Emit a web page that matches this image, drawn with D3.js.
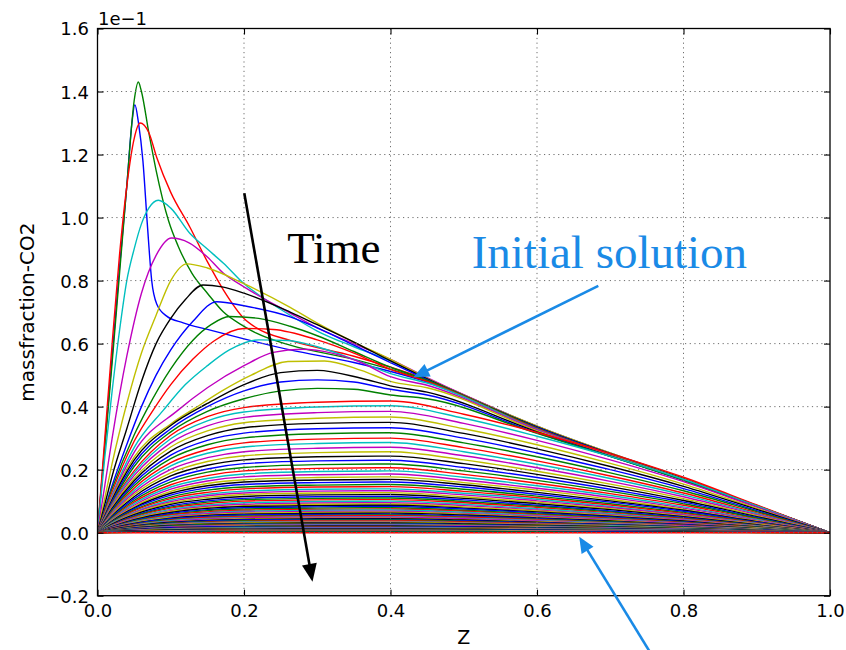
<!DOCTYPE html>
<html>
<head>
<meta charset="utf-8">
<script src="https://cdn.jsdelivr.net/npm/d3@7"></script>
<style>
body { margin: 0; background: #fff; }
</style>
</head>
<body>
<div id="chart"></div>
<script>
// values, in axis units (x 1e-1)

// first curves, each with its own z samples: [z, value]
var earlyCurves = [
  [[0,0],[.01,.28],[.02,.56],[.03,.84],[.04,1.1],[.047,1.3],[.051,1.358],[.056,1.3],[.062,1.18],[.068,.98],[.074,.8],[.081,.725],[.094,.688],[.117,.666],[.15,.645],[.2,.615],[.263,.58],[.35,.54],[.45,.478],[.6,.331],[.8,.168],[1,0]],
  [[0,0],[.01,.27],[.02,.54],[.03,.82],[.04,1.1],[.05,1.37],[.0557,1.43],[.06,1.4],[.07,1.27],[.08,1.15],[.097,.99],[.11,.91],[.129,.823],[.15,.76],[.172,.7],[.2,.655],[.217,.633],[.263,.595],[.35,.55],[.45,.482],[.6,.333],[.8,.169],[1,0]],
  [[0,0],[.01,.3],[.02,.6],[.03,.88],[.04,1.1],[.05,1.25],[.058,1.3],[.07,1.27],[.081,1.19],[.1,1.08],[.126,.97],[.15,.86],[.172,.77],[.2,.68],[.217,.65],[.263,.61],[.35,.56],[.45,.486],[.6,.335],[.8,.17],[1,0]],
  [[0,0],[.01,.24],[.02,.45],[.03,.64],[.04,.8],[.05,.9],[.06,.98],[.07,1.03],[.083,1.055],[.1,1.03],[.126,.95],[.15,.9],[.172,.855],[.2,.79],[.217,.76],[.263,.69],[.3,.64],[.35,.59],[.4,.545],[.45,.49],[.6,.338],[.8,.172],[1,0]],
  [[0,0],[.01,.15],[.02,.3],[.04,.56],[.06,.76],[.08,.88],[.101,.935],[.125,.92],[.15,.875],[.172,.823],[.2,.78],[.263,.697],[.3,.65],[.35,.6],[.4,.55],[.45,.492],[.6,.338],[.8,.172],[1,0]],
  [[0,0],[.01,.11],[.02,.22],[.04,.41],[.06,.57],[.08,.69],[.1,.8],[.122,.853],[.15,.84],[.2,.79],[.263,.715],[.3,.665],[.35,.605],[.4,.55],[.45,.49],[.6,.338],[.8,.172],[1,0]],
  [[0,0],[.01,.09],[.02,.18],[.04,.33],[.06,.48],[.08,.6],[.1,.68],[.12,.74],[.144,.786],[.17,.78],[.2,.76],[.263,.7],[.3,.66],[.35,.605],[.4,.545],[.45,.488],[.6,.336],[.8,.171],[1,0]],
  [[0,0],[.02,.15],[.04,.28],[.06,.4],[.08,.5],[.1,.58],[.13,.67],[.163,.733],[.2,.72],[.263,.685],[.3,.65],[.35,.595],[.4,.54],[.45,.486],[.6,.334],[.8,.17],[1,0]],
  [[0,0],[.02,.14],[.05,.31],[.067,.389],[.1,.52],[.13,.61],[.155,.66],[.18,.686],[.22,.68],[.263,.655],[.3,.625],[.35,.575],[.4,.525],[.45,.484],[.6,.332],[.8,.17],[1,0]],
  [[0,0],[.02,.13],[.05,.29],[.076,.389],[.1,.47],[.13,.55],[.16,.61],[.2,.648],[.24,.645],[.3,.612],[.35,.57],[.4,.518],[.45,.48],[.6,.33],[.8,.169],[1,0]],
  [[0,0],[.02,.12],[.05,.27],[.09,.389],[.12,.47],[.15,.53],[.18,.58],[.22,.612],[.26,.61],[.3,.59],[.35,.55],[.4,.505],[.45,.475],[.6,.328],[.8,.169],[1,0]],
  [[0,0],[.02,.115],[.05,.255],[.11,.389],[.15,.46],[.2,.53],[.24,.572],[.28,.582],[.32,.57],[.36,.54],[.4,.495],[.45,.468],[.6,.326],[.8,.168],[1,0]],
  [[0,0],[.02,.11],[.05,.24],[.1,.345],[.133,.395],[.17,.45],[.21,.5],[.26,.543],[.31,.545],[.36,.515],[.4,.48],[.45,.46],[.6,.323],[.8,.168],[1,0]],
  [[0,0],[.02,.105],[.05,.23],[.1,.34],[.15,.41],[.2,.47],[.25,.508],[.3,.515],[.36,.49],[.4,.466],[.45,.446],[.6,.32],[.8,.167],[1,0]],
  [[0,0],[.02,.1],[.05,.22],[.1,.33],[.15,.4],[.2,.45],[.25,.478],[.3,.485],[.35,.478],[.4,.455],[.45,.437],[.6,.317],[.8,.167],[1,0]],
  [[0,0],[.02,.095],[.05,.21],[.1,.32],[.15,.385],[.2,.425],[.25,.45],[.3,.458],[.35,.455],[.4,.437],[.45,.425],[.6,.315],[.8,.166],[1,0]]
];

// later curves share one z grid
var lateZ = [0, .02, .05, .1, .15, .2, .3, .4, .5, .6, .7, .8, .9, 1];
var lateCurves = [
  [0,.092,.196,.309,.368,.397,.414,.418,.376,.318,.251,.176,.088,0],
  [0,.089,.189,.298,.355,.383,.399,.403,.363,.306,.242,.169,.085,0],
  [0,.085,.181,.285,.339,.366,.381,.385,.347,.293,.231,.162,.081,0],
  [0,.081,.172,.272,.323,.349,.363,.367,.330,.279,.220,.154,.077,0],
  [0,.077,.165,.259,.308,.333,.347,.350,.315,.266,.210,.147,.074,0],
  [0,.073,.157,.246,.293,.316,.330,.333,.300,.253,.200,.140,.070,0],
  [0,.070,.149,.235,.279,.301,.314,.317,.285,.241,.190,.133,.067,0],
  [0,.066,.141,.222,.264,.285,.297,.300,.270,.228,.180,.126,.063,0],
  [0,.063,.134,.212,.252,.272,.283,.286,.257,.217,.172,.120,.060,0],
  [0,.060,.127,.201,.238,.257,.268,.271,.244,.206,.163,.114,.057,0],
  [0,.057,.121,.190,.226,.244,.254,.257,.231,.195,.154,.108,.054,0],
  [0,.053,.114,.180,.214,.231,.241,.243,.219,.185,.146,.102,.051,0],
  [0,.051,.108,.170,.202,.219,.228,.230,.207,.175,.138,.097,.048,0],
  [0,.048,.102,.161,.192,.207,.216,.218,.196,.166,.131,.092,.046,0],
  [0,.045,.097,.152,.181,.196,.204,.206,.185,.157,.124,.087,.043,0],
  [0,.043,.092,.145,.172,.186,.194,.196,.176,.149,.118,.082,.041,0],
  [0,.041,.087,.138,.164,.177,.184,.186,.167,.141,.112,.078,.039,0],
  [0,.039,.083,.131,.156,.168,.175,.177,.159,.135,.106,.074,.037,0],
  [0,.037,.079,.125,.149,.161,.167,.169,.152,.128,.101,.071,.035,0],
  [0,.035,.076,.119,.142,.153,.159,.161,.145,.122,.097,.068,.034,0],
  [0,.034,.072,.113,.135,.145,.151,.153,.138,.116,.092,.064,.032,0],
  [0,.032,.069,.108,.128,.139,.145,.146,.131,.111,.088,.061,.031,0],
  [0,.031,.065,.103,.122,.132,.138,.139,.125,.106,.083,.058,.029,0],
  [0,.029,.063,.098,.117,.126,.132,.133,.120,.101,.080,.056,.028,0],
  [0,.028,.060,.094,.112,.121,.126,.127,.114,.097,.076,.053,.027,0],
  [0,.027,.057,.090,.106,.115,.120,.121,.109,.092,.073,.051,.025,0],
  [0,.025,.054,.085,.101,.109,.114,.115,.104,.087,.069,.048,.024,0],
  [0,.024,.052,.081,.097,.105,.109,.110,.099,.084,.066,.046,.023,0],
  [0,.023,.049,.078,.092,.100,.104,.105,.095,.080,.063,.044,.022,0],
  [0,.022,.047,.074,.088,.095,.099,.100,.090,.076,.060,.042,.021,0],
  [0,.021,.045,.070,.084,.090,.094,.095,.086,.072,.057,.040,.020,0],
  [0,.020,.043,.067,.080,.086,.090,.091,.082,.069,.055,.038,.019,0],
  [0,.019,.041,.064,.077,.083,.086,.087,.078,.066,.052,.037,.018,0],
  [0,.018,.039,.061,.073,.079,.082,.083,.075,.063,.050,.035,.017,0],
  [0,.017,.037,.058,.070,.075,.078,.079,.071,.060,.047,.033,.017,0],
  [0,.017,.035,.056,.066,.071,.074,.075,.068,.057,.045,.032,.016,0],
  [0,.016,.034,.053,.063,.068,.071,.072,.065,.055,.043,.030,.015,0],
  [0,.015,.032,.050,.060,.065,.067,.068,.061,.052,.041,.029,.014,0],
  [0,.014,.031,.048,.057,.062,.064,.065,.059,.049,.039,.027,.014,0],
  [0,.014,.029,.046,.055,.059,.061,.062,.056,.047,.037,.026,.013,0],
  [0,.013,.028,.044,.052,.056,.058,.059,.053,.045,.035,.025,.012,0],
  [0,.012,.026,.041,.049,.053,.055,.056,.050,.043,.034,.024,.012,0],
  [0,.012,.025,.040,.048,.051,.053,.054,.049,.041,.032,.023,.011,0],
  [0,.011,.024,.038,.045,.048,.050,.051,.046,.039,.031,.021,.011,0],
  [0,.011,.023,.036,.043,.047,.049,.049,.044,.037,.029,.021,.010,0],
  [0,.010,.022,.034,.040,.044,.046,.046,.041,.035,.028,.019,.010,0],
  [0,.010,.021,.033,.039,.042,.044,.044,.040,.033,.026,.018,.009,0],
  [0,.009,.020,.031,.037,.040,.042,.042,.038,.032,.025,.018,.009,0],
  [0,.009,.019,.030,.035,.038,.040,.040,.036,.030,.024,.017,.008,0],
  [0,.008,.018,.028,.033,.036,.038,.038,.034,.029,.023,.016,.008,0],
  [0,.008,.017,.027,.032,.034,.036,.036,.032,.027,.022,.015,.008,0],
  [0,.007,.016,.025,.030,.032,.034,.034,.031,.026,.020,.014,.007,0],
  [0,.007,.016,.024,.029,.031,.033,.033,.030,.025,.020,.014,.007,0],
  [0,.007,.015,.023,.027,.029,.031,.031,.028,.024,.019,.013,.007,0],
  [0,.006,.014,.021,.026,.028,.029,.029,.026,.022,.017,.012,.006,0],
  [0,.006,.013,.021,.025,.027,.028,.028,.025,.021,.017,.012,.006,0],
  [0,.006,.012,.019,.023,.025,.026,.026,.023,.020,.016,.011,.005,0],
  [0,.006,.012,.019,.022,.024,.025,.025,.023,.019,.015,.011,.005,0],
  [0,.005,.011,.018,.021,.023,.024,.024,.022,.018,.014,.010,.005,0],
  [0,.005,.010,.016,.019,.021,.022,.022,.020,.017,.013,.009,.005,0],
  [0,.005,.010,.016,.018,.020,.021,.021,.019,.016,.013,.009,.004,0],
  [0,.004,.009,.015,.018,.019,.020,.020,.018,.015,.012,.008,.004,0],
  [0,.004,.008,.013,.016,.017,.018,.018,.016,.014,.011,.008,.004,0],
  [0,.004,.008,.013,.015,.016,.017,.017,.015,.013,.010,.007,.004,0],
  [0,.004,.008,.012,.014,.015,.016,.016,.014,.012,.010,.007,.003,0],
  [0,.003,.007,.010,.012,.013,.014,.014,.013,.011,.008,.006,.003,0],
  [0,.003,.006,.010,.011,.012,.013,.013,.012,.010,.008,.005,.003,0],
  [0,.003,.006,.009,.011,.011,.012,.012,.011,.009,.007,.005,.003,0],
  [0,.002,.005,.007,.009,.010,.010,.010,.009,.008,.006,.004,.002,0],
  [0,.002,.004,.007,.008,.009,.009,.009,.008,.007,.005,.004,.002,0],
  [0,.002,.004,.006,.007,.008,.008,.008,.007,.006,.005,.003,.002,0],
  [0,.002,.003,.005,.006,.007,.007,.007,.006,.005,.004,.003,.001,0],
  [0,.001,.003,.004,.005,.006,.006,.006,.005,.005,.004,.003,.001,0],
  [0,.001,.002,.004,.004,.005,.005,.005,.005,.004,.003,.002,.001,0],
  [0,.001,.002,.003,.004,.004,.004,.004,.004,.003,.002,.002,.001,0],
  [0,.001,.001,.002,.003,.003,.003,.003,.003,.002,.002,.001,.001,0],
  [0,0,.001,.001,.002,.002,.002,.002,.002,.002,.001,.001,0,0],
  [0,0,0,0,0,0,0,0,0,0,0,0,0,0]
];

// matplotlib classic colour cycle b g r c m y k
var colorCycle = ["#0000ff", "#008000", "#ff0000", "#00bfbf", "#bf00bf", "#bfbf00", "#000000"];

var xTickValues = [0, 0.2, 0.4, 0.6, 0.8, 1.0];
var yTickValues = [-0.2, 0, 0.2, 0.4, 0.6, 0.8, 1.0, 1.2, 1.4, 1.6];

// annotations, in data coords
var timeArrow = [[0.2004, 1.077], [0.2935, -0.156]];
var initialArrow = [[0.6837, 0.783], [0.4311, 0.493]];
var finalArrow = [[0.7566, -0.388], [0.6576, -0.0127]];
var timeLabel = { text: "Time", z: 0.259, v: 0.855 };
var initialLabel = { text: "Initial solution", z: 0.5108, v: 0.839 };

var svgWidth = 846;
var svgHeight = 650;

var margin = { top: 28.5, right: 16, bottom: 54.3, left: 97.5 };

var width = svgWidth - margin.left - margin.right;
var height = svgHeight - margin.top - margin.bottom;

var svg = d3.select("#chart").append("svg")
    .attr("width", svgWidth)
    .attr("height", svgHeight)
    .style("font-family", "'DejaVu Sans', sans-serif");

var chartGroup = svg.append("g")
    .attr("transform", `translate(${margin.left}, ${margin.top})`);

var xScale = d3.scaleLinear().domain([0, 1]).range([0, width]);
var yScale = d3.scaleLinear().domain([-0.2, 1.6]).range([height, 0]);

chartGroup.append("clipPath").attr("id", "plotclip")
  .append("rect").attr("width", width).attr("height", height);

// build one list of series: early ones then the later family
var series = earlyCurves.map(c => c.map(p => ({ z: p[0], v: p[1] })));
lateCurves.forEach(function(row) {
    series.push(row.map((v, i) => ({ z: lateZ[i], v: v })));
});

var line = d3.line()
    .x(d => xScale(d.z))
    .y(d => yScale(d.v))
    .curve(d3.curveMonotoneX);

chartGroup.append("g")
    .attr("clip-path", "url(#plotclip)")
  .selectAll("path")
  .data(series)
  .enter().append("path")
    .attr("d", line)
    .attr("fill", "none")
    .attr("stroke", (d, i) => colorCycle[i % colorCycle.length])
    .attr("stroke-width", 1.4)
    .attr("stroke-linejoin", "round");

// dotted grid (drawn above lines, like classic matplotlib)
var grid = chartGroup.append("g")
    .attr("stroke", "#6e6e6e")
    .attr("stroke-width", 1)
    .attr("stroke-dasharray", "1.2,3.5");

grid.selectAll(".gx").data(xTickValues.slice(1, -1)).enter().append("line")
    .attr("x1", d => xScale(d)).attr("x2", d => xScale(d))
    .attr("y1", 0).attr("y2", height);

grid.selectAll(".gy").data(yTickValues.slice(1, -1)).enter().append("line")
    .attr("y1", d => yScale(d)).attr("y2", d => yScale(d))
    .attr("x1", 0).attr("x2", width);

// axes, ticks pointing in
var fmt = d3.format(".1f");

var xAxis = d3.axisBottom(xScale).tickValues(xTickValues).tickFormat(fmt)
    .tickSizeInner(-6).tickSizeOuter(0).tickPadding(8.2);
var yAxis = d3.axisLeft(yScale).tickValues(yTickValues).tickFormat(fmt)
    .tickSizeInner(-6).tickSizeOuter(0).tickPadding(8.5);
var xTop = d3.axisTop(xScale).tickValues(xTickValues).tickFormat("")
    .tickSizeInner(-6).tickSizeOuter(0);
var yRight = d3.axisRight(yScale).tickValues(yTickValues).tickFormat("")
    .tickSizeInner(-6).tickSizeOuter(0);

function styleAxis(g) {
    g.select(".domain").remove();
    g.selectAll("line").attr("stroke", "#000").attr("stroke-width", 1.1);
    g.selectAll("text").attr("fill", "#000")
      .style("font-size", "18px")
      .style("font-family", "'DejaVu Sans', sans-serif");
}

chartGroup.append("g").attr("transform", `translate(0, ${height})`).call(xAxis).call(styleAxis);
chartGroup.append("g").call(yAxis).call(styleAxis)
    .selectAll("text").attr("dy", "0.36em");
chartGroup.append("g").call(xTop).call(styleAxis);
chartGroup.append("g").attr("transform", `translate(${width}, 0)`).call(yRight).call(styleAxis);

// frame
chartGroup.append("rect")
    .attr("width", width).attr("height", height)
    .attr("fill", "none").attr("stroke", "#000").attr("stroke-width", 1.3);

// offset text
chartGroup.append("text")
    .attr("x", 0.5).attr("y", -3.5)
    .style("font-size", "18px")
    .text("1e\u22121");

// axis labels
chartGroup.append("text")
    .attr("x", width / 2).attr("y", height + 48.5)
    .attr("text-anchor", "middle")
    .style("font-size", "19px")
    .text("Z");

chartGroup.append("text")
    .attr("transform", `translate(${-64}, ${height / 2}) rotate(-90)`)
    .attr("text-anchor", "middle")
    .style("font-size", "20px")
    .text("massfraction-CO2");

// annotation arrows
function drawArrow(pts, color, w, headLen, headHalf) {
    var x1 = xScale(pts[0][0]), y1 = yScale(pts[0][1]);
    var x2 = xScale(pts[1][0]), y2 = yScale(pts[1][1]);
    var dx = x2 - x1, dy = y2 - y1, len = Math.sqrt(dx * dx + dy * dy);
    var ux = dx / len, uy = dy / len;
    var bx = x2 - ux * headLen, by = y2 - uy * headLen;
    chartGroup.append("line")
        .attr("x1", x1).attr("y1", y1).attr("x2", bx + ux * 2).attr("y2", by + uy * 2)
        .attr("stroke", color).attr("stroke-width", w);
    chartGroup.append("path")
        .attr("d", `M${x2},${y2}L${bx - uy * headHalf},${by + ux * headHalf}L${bx + uy * headHalf},${by - ux * headHalf}Z`)
        .attr("fill", color);
}

drawArrow(timeArrow, "#000", 2.6, 18, 7.5);
drawArrow(initialArrow, "#1a8ae6", 2.6, 16, 7);
drawArrow(finalArrow, "#1a8ae6", 2.6, 16, 7);

chartGroup.append("text")
    .attr("x", xScale(timeLabel.z)).attr("y", yScale(timeLabel.v))
    .style("font-family", "'Liberation Serif', 'Times New Roman', serif")
    .style("font-size", "45px")
    .attr("fill", "#000")
    .text(timeLabel.text);

chartGroup.append("text")
    .attr("x", xScale(initialLabel.z)).attr("y", yScale(initialLabel.v))
    .style("font-family", "'Liberation Serif', 'Times New Roman', serif")
    .style("font-size", "47px")
    .attr("fill", "#1a8ae6")
    .text(initialLabel.text);
</script>
</body>
</html>
